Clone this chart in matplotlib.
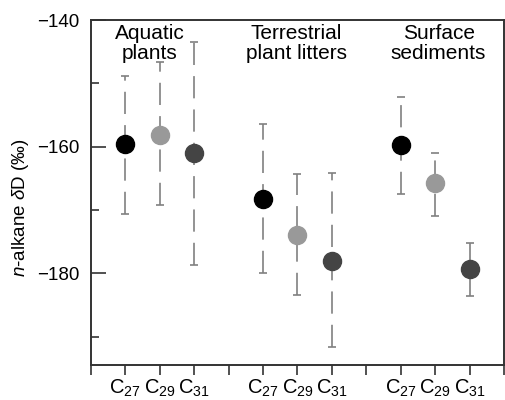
import matplotlib
matplotlib.use("Agg")
import matplotlib.pyplot as plt
from matplotlib.ticker import FixedLocator

plt.rcParams['font.family'] = ['Liberation Sans', 'DejaVu Sans']
plt.rcParams['mathtext.fontset'] = 'custom'
plt.rcParams['mathtext.rm'] = 'Liberation Sans'
plt.rcParams['mathtext.it'] = 'Liberation Sans:italic'
plt.rcParams['lines.scale_dashes'] = False

# data
groups = ["Aquatic\nplants", "Terrestrial\nplant litters", "Surface\nsediments"]
chains = ["C$_{27}$", "C$_{29}$", "C$_{31}$"]
positions = [1, 2, 3, 5, 6, 7, 9, 10, 11]
means = [-159.6, -158.2, -161.0, -168.3, -174.0, -178.0, -159.8, -165.7, -179.4]
upper = [-148.9, -146.7, -143.4, -156.4, -164.3, -164.2, -152.2, -161.0, -175.3]
lower = [-170.6, -169.3, -178.7, -179.9, -183.4, -191.7, -167.5, -170.9, -183.6]
colors = ["#000000", "#999999", "#444444"] * 3
group_label_x = [1.7, 5.97, 10.1]

fig = plt.figure(figsize=(5.05, 4.0), dpi=100)
ax = fig.add_axes([0.180, 0.0875, 0.818, 0.8625])

for i, (x, m, u, l, c) in enumerate(zip(positions, means, upper, lower, colors)):
    eb = ax.errorbar([x], [m], yerr=[[m - l], [u - m]], fmt='none',
                     ecolor='#808080', elinewidth=1.2, capsize=3.2, capthick=1.2,
                     zorder=2)
    for lc in eb[2]:
        lc.set_linestyle((0, (16, 8)))
    if i == 3:
        # lower cap of this bar drawn lighter in the original
        eb[1][0].set_color('#cccccc')
    ax.plot([x], [m], 'o', color=c, markersize=13, zorder=3)

ax.set_xlim(0, 12)
ax.set_ylim(-194.5, -140)

ax.set_xticks(list(range(0, 13)))
xt_labels = []
for t in range(13):
    if t in positions:
        xt_labels.append(chains[positions.index(t) % 3])
    else:
        xt_labels.append("")
ax.set_xticklabels(xt_labels, fontsize=14.5)
ax.tick_params(axis='x', direction='out', length=7, width=1.2, color='#333333', pad=2)

ax.set_yticks([-140, -160, -180])
ax.set_yticklabels(["\u2212140", "\u2212160", "\u2212180"], fontsize=13.5)
ax.yaxis.set_minor_locator(FixedLocator([-150, -170, -190]))
ax.tick_params(axis='y', which='major', direction='in', length=11, width=1.2,
               color='#333333', pad=8)
ax.tick_params(axis='y', which='minor', direction='in', length=6, width=1.2,
               color='#333333')

for s in ax.spines.values():
    s.set_linewidth(1.4)
    s.set_color('#333333')

ax.set_ylabel("$n$-alkane $\\delta$D (\u2030)", fontsize=13.5)
ax.yaxis.set_label_coords(-0.145, 0.455)

for gx, g in zip(group_label_x, groups):
    ax.text(gx, -140.7, g, ha='center', va='top', fontsize=15, linespacing=1.05)

fig.savefig("out.png", dpi=100)
